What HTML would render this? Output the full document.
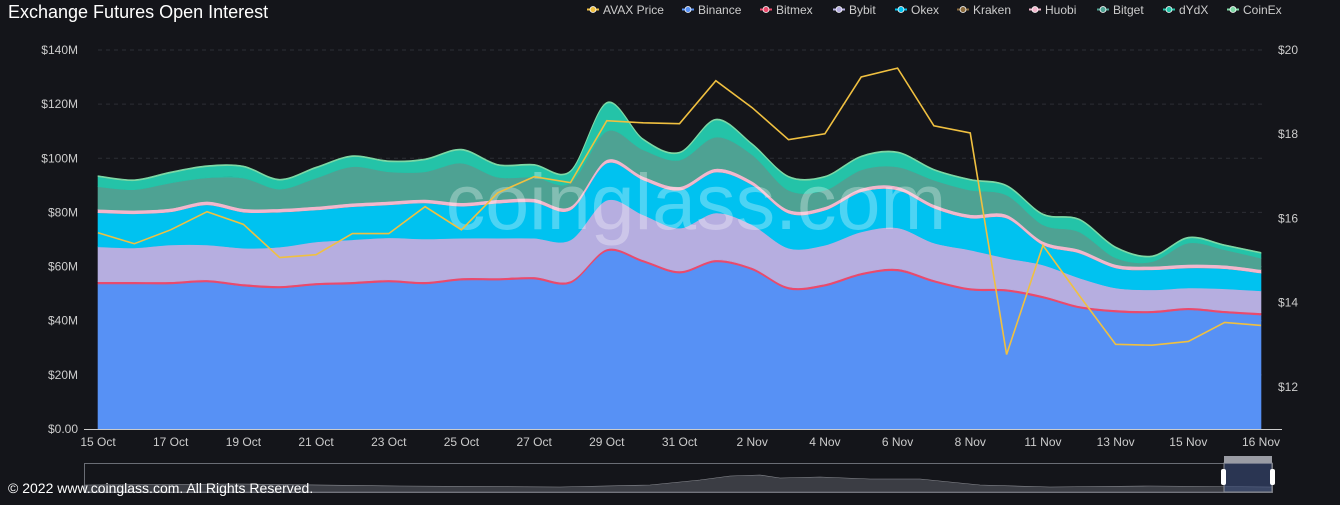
<!DOCTYPE html>
<html><head><meta charset="utf-8"><style>
body{margin:0;background:#14151a;width:1340px;height:500px;overflow:hidden;font-family:"Liberation Sans",sans-serif}
svg text{font-family:"Liberation Sans",sans-serif}
</style></head><body>
<svg id="chart" width="1340" height="500" xmlns="http://www.w3.org/2000/svg">
<rect width="1340" height="500" fill="#14151a"/>
<text x="8" y="18" fill="#ffffff" font-size="18">Exchange  Futures Open Interest</text>
<g id="grid"></g><g id="areas"></g>
<text x="696" y="229" fill="rgba(255,255,255,0.3)" font-size="79" text-anchor="middle">coinglass.com</text>
<g id="price"></g><g id="axes"></g><g id="legend"></g><g id="zoom"></g>
<text x="8" y="493" fill="#ffffff" font-size="14">© 2022 www.coinglass.com. All Rights Reserved.</text>
</svg>
<script>
const categories=["15 Oct","16 Oct","17 Oct","18 Oct","19 Oct","20 Oct","21 Oct","22 Oct","23 Oct","24 Oct","25 Oct","26 Oct","27 Oct","28 Oct","29 Oct","30 Oct","31 Oct","1 Nov","2 Nov","3 Nov","4 Nov","5 Nov","6 Nov","7 Nov","8 Nov","10 Nov","11 Nov","12 Nov","13 Nov","14 Nov","15 Nov","15 Nov ","16 Nov"];
const tickLabels=["15 Oct","17 Oct","19 Oct","21 Oct","23 Oct","25 Oct","27 Oct","29 Oct","31 Oct","2 Nov","4 Nov","6 Nov","8 Nov","11 Nov","13 Nov","15 Nov","16 Nov"];
const leftTicks=[0,20,40,60,80,100,120,140];
const rightTicks=[12,14,16,18,20];
const binance=[53.6,53.6,53.6,54.3,52.8,52.1,53.2,53.6,54.3,53.6,55.0,55.0,55.4,53.9,65.7,61.7,57.6,61.7,58.8,51.7,52.8,56.9,58.4,54.3,51.3,50.9,48.4,44.7,43.2,42.9,44.0,42.9,42.1];
const bitmex=[0.8,0.8,0.8,0.8,0.8,0.8,0.8,0.8,0.8,0.8,0.8,0.8,0.8,0.8,0.8,0.8,0.8,0.8,0.8,0.8,0.8,0.8,0.8,0.8,0.8,0.8,0.8,0.8,0.8,0.8,0.8,0.8,0.8];
const bybit=[12.9,12.5,13.6,12.9,13.2,14.3,15.1,15.5,15.5,15.8,14.7,14.7,14.3,15.1,18.0,16.6,15.8,17.3,15.8,14.3,14.3,15.1,15.1,13.6,14.0,11.4,11.4,10.3,8.1,7.7,7.3,8.1,8.1];
const okex=[12.6,12.6,12.2,14.8,13.3,12.9,11.8,12.2,12.2,13.3,11.8,12.9,13.3,11.1,13.7,12.9,14.0,15.1,14.8,12.9,12.9,14.8,14.0,12.9,11.8,14.8,7.4,9.2,7.4,7.4,7.4,7.4,6.6];
const kraken=[0,0,0,0,0,0,0,0,0,0,0,0,0,0,0,0,0,0,0,0,0,0,0,0,0,0,0,0,0,0,0,0,0];
const huobi=[1.3,1.3,1.3,1.3,1.3,1.3,1.3,1.3,1.3,1.3,1.3,1.3,1.3,1.3,1.3,1.3,1.3,1.3,1.3,1.3,1.3,1.3,1.3,1.3,1.3,1.3,1.3,1.3,1.3,1.3,1.3,1.3,1.3];
const bitget=[8.3,7.6,9.4,8.7,11.3,7.2,10.5,13.5,10.9,10.2,14.6,8.3,7.9,8.7,10.5,9.8,9.8,11.6,9.8,7.2,6.1,6.8,7.2,9.0,9.0,7.2,6.1,6.5,2.4,1.7,7.9,5.7,4.2];
const dydx=[3.7,3.3,3.7,4.1,4.1,3.3,3.7,3.7,3.7,4.4,4.8,4.4,4.4,4.1,10.3,3.7,2.6,6.3,3.7,4.8,4.8,4.8,5.2,3.7,3.7,3.3,3.7,4.4,3.7,1.8,1.8,1.5,1.8];
const coinex=[0.4,0.4,0.4,0.4,0.4,0.4,0.4,0.4,0.4,0.4,0.4,0.4,0.4,0.4,0.4,0.4,0.4,0.4,0.4,0.4,0.4,0.4,0.4,0.4,0.4,0.4,0.4,0.4,0.4,0.4,0.4,0.4,0.4];
const avaxPrice=[15.66,15.40,15.73,16.16,15.86,15.07,15.14,15.64,15.64,16.28,15.73,16.61,16.99,16.85,18.32,18.27,18.25,19.27,18.63,17.87,18.01,19.36,19.57,18.20,18.03,12.77,15.36,14.17,13.01,12.99,13.08,13.53,13.46];

const NS="http://www.w3.org/2000/svg";
const X0=98,X1=1261,YB=429,YT=50;
const x=i=>X0+(X1-X0)*i/(categories.length-1);
const yL=v=>YB-(YB-YT)*v/140;
const yR=p=>YB-(YB-YT)*(p-11)/(20-11);
function mk(tag,attrs,parent){const e=document.createElementNS(NS,tag);for(const k in attrs)e.setAttribute(k,attrs[k]);parent.appendChild(e);return e;}
function smooth(pts){let d="M"+pts[0][0]+","+pts[0][1];for(let i=0;i<pts.length-1;i++){const p0=pts[Math.max(0,i-1)],p1=pts[i],p2=pts[i+1],p3=pts[Math.min(pts.length-1,i+2)];const t=0.16;d+=" C"+(p1[0]+(p2[0]-p0[0])*t)+","+(p1[1]+(p2[1]-p0[1])*t)+" "+(p2[0]-(p3[0]-p1[0])*t)+","+(p2[1]-(p3[1]-p1[1])*t)+" "+p2[0]+","+p2[1];}return d;}
const grid=document.getElementById('grid'),axes=document.getElementById('axes');
leftTicks.forEach(v=>{if(v>0){const g=mk('line',{x1:X0,x2:1265,y1:yL(v),y2:yL(v),stroke:'#2c2e35','stroke-dasharray':'4 4'},grid);}
 const t=mk('text',{x:78,y:yL(v)+4,fill:'#cccccc','font-size':12,'text-anchor':'end'},axes);t.textContent=v===0?'$0.00':'$'+v+'M';
 });
rightTicks.forEach(p=>{const t=mk('text',{x:1278,y:yR(p)+4,fill:'#cccccc','font-size':12},axes);t.textContent='$'+p;
 });
const ax=mk('line',{x1:X0-14,x2:1282,y1:YB+0.5,y2:YB+0.5,stroke:'#cccccc'},axes);

tickLabels.forEach((l,k)=>{const t=mk('text',{x:x(k*2),y:446,fill:'#cccccc','font-size':12,'text-anchor':'middle'},axes);t.textContent=l;
 });
const series=[["Binance",binance,"#5791f5"],["Bitmex",bitmex,"#ea4a6c"],["Bybit",bybit,"#b6aee0"],["Okex",okex,"#00c2f0"],["Kraken",kraken,"#8a6a3c"],["Huobi",huobi,"#f2b7cd"],["Bitget",bitget,"#4ea293"],["dYdX",dydx,"#24c3a8"],["CoinEx",coinex,"#7fd9a6"]];
const areas=document.getElementById('areas');
let base=categories.map(()=>0);
series.forEach(([name,vals,col])=>{const top=base.map((b,i)=>b+vals[i]);
 const tp=top.map((v,i)=>[x(i),yL(v)]),bp=base.map((v,i)=>[x(i),yL(v)]).reverse();
 const d=smooth(tp)+" L"+smooth(bp).slice(1)+" Z";
 const p=mk('path',{d:d,fill:col,stroke:col,'stroke-width':0.6},areas);
 
 base=top;});
const pg=document.getElementById('price');
const pl=mk('polyline',{points:avaxPrice.map((v,i)=>x(i)+","+yR(v)).join(" "),fill:'none',stroke:'#f0c040','stroke-width':1.6},pg);

const legendItems=[["AVAX Price","#f0c040",603],["Binance","#5791f5",698],["Bitmex","#ea4a6c",776],["Bybit","#b6aee0",849],["Okex","#00c2f0",911],["Kraken","#8a6a3c",973],["Huobi","#f2b7cd",1045],["Bitget","#4ea293",1113],["dYdX","#24c3a8",1179],["CoinEx","#7fd9a6",1243]];
const lg=document.getElementById('legend');
legendItems.forEach(([n,c,tx])=>{const g=mk('g',{},lg);
 mk('line',{x1:tx-16,x2:tx-4,y1:9.5,y2:9.5,stroke:c,'stroke-width':2},g);mk('circle',{cx:tx-10,cy:9.5,r:3,fill:c,stroke:'#fff','stroke-width':0.8},g);
 const t=mk('text',{x:tx,y:14,fill:'#cccccc','font-size':12},g);t.textContent=n;});
const zg=document.getElementById('zoom');
mk('rect',{x:84.5,y:463.5,width:1188,height:29,fill:'none',stroke:'#6a6d75'},zg);
mk('path',{d:"M85,492 L85,485 L240,484 L400,486 L560,487 L650,485 L700,480 L730,476 L760,475 L780,478 L820,477 L870,479 L920,479 L980,485 L1050,487 L1150,486 L1272,487 L1272,492 Z",fill:'#3b3d44',stroke:'#8a8c92','stroke-width':0.6},zg);
mk('rect',{x:1224,y:463,width:48,height:29,fill:'rgba(60,80,130,0.55)',stroke:'#8a8c92'},zg);
mk('rect',{x:1224,y:456,width:48,height:7,fill:'#9a9ca4'},zg);
mk('rect',{x:1221,y:469,width:5,height:16,rx:2,fill:'#fff'},zg);
mk('rect',{x:1270,y:469,width:5,height:16,rx:2,fill:'#fff'},zg);
</script>
</body></html>
